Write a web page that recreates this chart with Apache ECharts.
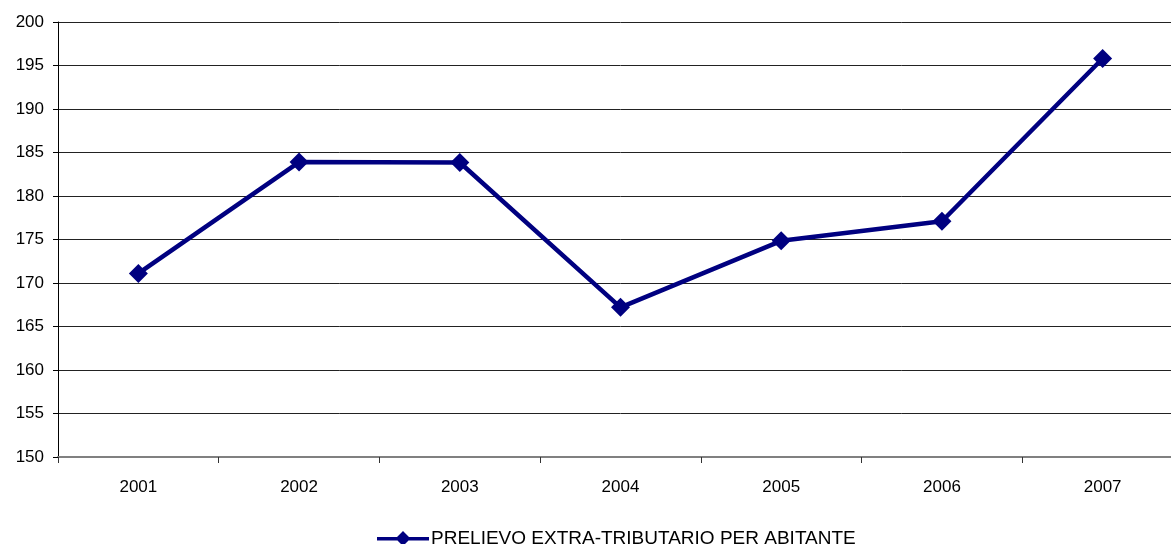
<!DOCTYPE html>
<html>
<head>
<meta charset="utf-8">
<script src="https://cdn.jsdelivr.net/npm/echarts@6/dist/echarts.min.js"></script>
<style>
html,body{margin:0;padding:0;background:#fff;overflow:hidden;width:1171px;height:544px;}
#c{width:1183px;height:544px;}
</style>
</head>
<body>
<div id="c"></div>
<script>
var categories = ['2001','2002','2003','2004','2005','2006','2007'];
var seriesName = 'PRELIEVO EXTRA-TRIBUTARIO PER ABITANTE';
var values = [171.1, 183.9, 183.85, 167.2, 174.85, 177.1, 195.8];

var chart = echarts.init(document.getElementById('c'), null, {renderer:'canvas'});
chart.setOption({
  animation: false,
  backgroundColor: '#ffffff',
  grid: {left: 58, right: 0, top: 22, bottom: 87, containLabel: false},
  legend: {
    left: 377, top: 529, padding: 0,
    itemWidth: 52, itemHeight: 15,
    itemGap: 0,
    textStyle: {fontFamily: 'Liberation Sans, Arial', fontSize: 19, color: '#000', padding: [1,0,0,-3]},
    data: [{name: seriesName, icon: 'path://M0,6 L52,6 L52,9.5 L0,9.5 Z M26,0 L33.5,7.5 L26,15 L18.5,7.5 Z'}]
  },
  xAxis: {
    type: 'category',
    data: categories,
    boundaryGap: true,
    axisLine: {show: true, lineStyle: {color: '#808080', width: 2}},
    axisTick: {show: true, length: 6, lineStyle: {color: '#333'}},
    axisLabel: {fontFamily: 'Liberation Sans, Arial', fontSize: 17, color: '#000', margin: 22},
    splitLine: {show: false}
  },
  yAxis: {
    type: 'value',
    min: 150, max: 200, interval: 5,
    axisLine: {show: true, lineStyle: {color: '#000', width: 1}},
    axisTick: {show: true, length: 5, lineStyle: {color: '#000'}},
    axisLabel: {fontFamily: 'Liberation Sans, Arial', fontSize: 17, color: '#000', margin: 14},
    splitLine: {show: true, lineStyle: {color: '#222', width: 1}}
  },
  series: [{
    name: seriesName,
    type: 'line',
    data: values,
    symbol: 'diamond',
    symbolSize: 19,
    lineStyle: {color: '#000080', width: 4.5},
    itemStyle: {color: '#000080'},
    z: 5
  }]
});
</script>
</body>
</html>
